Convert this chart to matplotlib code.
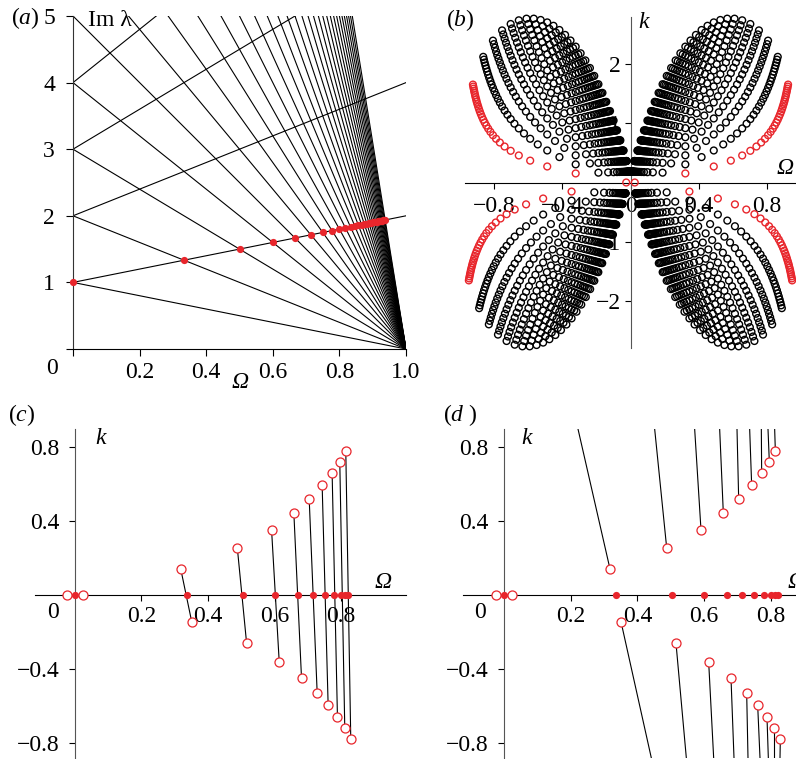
import numpy as np
import matplotlib
matplotlib.use('Agg')
import matplotlib.pyplot as plt

plt.rcParams['font.family'] = ['Liberation Serif', 'DejaVu Serif']
plt.rcParams['font.size'] = 17
plt.rcParams['mathtext.fontset'] = 'custom'
plt.rcParams['mathtext.rm'] = 'Liberation Serif'
plt.rcParams['mathtext.it'] = 'Liberation Serif:italic'
RED = '#e8262c'
GREY = '#555555'

# ---- (a) Im lambda versus Omega: lines n(1-Omega) and m(1+Omega)
down_n = list(range(1, 32))          # intercepts of n(1-Omega) at Omega=0
up_m = [1, 2, 3, 4]                   # intercepts of m(1+Omega)
red_n = list(range(1, 31))            # collisions of 1+Omega with n(1-Omega)

N_TOP = 30
K_SCALE = 0.37
D_OM = 0.012

# ---- (c), (d) red points
dot_om = [0.0, 0.336, 0.504, 0.601, 0.669, 0.714, 0.751, 0.780, 0.800, 0.813, 0.822]
zero_om = [-0.025, 0.025]
up_om = [0.318, 0.488, 0.591, 0.658, 0.704, 0.743, 0.773, 0.796, 0.814]
up_k = [0.141, 0.256, 0.352, 0.442, 0.522, 0.594, 0.659, 0.720, 0.782]
lo_om = [0.351, 0.516, 0.614, 0.681, 0.728, 0.761, 0.789, 0.811, 0.829]
lo_k = [-0.145, -0.262, -0.363, -0.451, -0.529, -0.596, -0.663, -0.722, -0.780]
# where the (d) branches leave the frame (k = 0.9 on top, k = -0.883 below)
top_om = [0.222, 0.452, 0.572, 0.647, 0.699, 0.737, 0.772, 0.792, 0.812]
bot_om = [0.442, 0.547, 0.629, 0.690, 0.732, 0.768, 0.793, 0.811, 0.828]

W, H = 796.0, 759.0
fig = plt.figure(figsize=(W / 100, H / 100), dpi=100)


def box(x0, x1, y0, y1):
    return [x0 / W, 1 - y1 / H, (x1 - x0) / W, (y1 - y0) / H]


def ftext(x, y, s, **kw):
    kw.setdefault('ha', 'center')
    kw.setdefault('va', 'center')
    fig.text(x / W, 1 - y / H, s, **kw)


# ================= (a)
ax = fig.add_axes(box(73, 406, 16, 349))
om = np.array([0.0, 1.0])
for n in down_n:
    ax.plot(om, n * (1 - om), color='k', lw=0.8)
for m in up_m:
    ax.plot(om, m * (1 + om), color='k', lw=0.8)
rn = np.array(red_n, dtype=float)
r_om = (rn - 1) / (rn + 1)
ax.plot(r_om, 1 + r_om, 'o', color=RED, ms=5.2, mew=0, zorder=4, clip_on=False)
ax.set_xlim(0, 1)
ax.set_ylim(0, 5)
for s in ['top', 'right']:
    ax.spines[s].set_visible(False)
ax.spines['left'].set_color('#333333')
ax.set_xticks([0, 0.2, 0.4, 0.6, 0.8, 1.0])
ax.set_xticklabels(['', '0.2', '0.4', '0.6', '0.8', '1.0'])
ax.set_yticks([0, 1, 2, 3, 4, 5])
ax.set_yticklabels(['', '1', '2', '3', '4', '5'])
ax.tick_params(axis='y', direction='out', length=5, width=0.8, pad=8)
ax.tick_params(axis='x', direction='out', length=5, width=0.8, pad=4)
ftext(52, 368, '0')
ftext(240, 383, 'Ω', style='italic')
ftext(88, 20, 'Im λ', ha='left')
ftext(25, 18, r'($\mathit{a}$)')

# ================= (b)
ax = fig.add_axes(box(465, 796, 17, 348))
bo, bk, bc = [], [], []
for m in range(1, N_TOP):
    for n in range(m + 1, N_TOP + 1):
        o = (n - m) / (n + m)
        k = K_SCALE * (np.sqrt(m * n) - m)
        col = RED if m == 1 else 'k'
        for so in (1, -1):
            bo += [so * (o - D_OM), so * (o + D_OM)]
            bk += [k, -k]
            bc += [col, col]
bo, bk, bc = np.array(bo), np.array(bk), np.array(bc)
blk = bc == 'k'
ax.scatter(bo[blk], bk[blk], s=24, facecolors='none', edgecolors='k',
           linewidths=1.0, zorder=3, clip_on=False)
ax.scatter(bo[~blk], bk[~blk], s=24, facecolors='none', edgecolors=RED,
           linewidths=1.0, zorder=4, clip_on=False)
ax.scatter(zero_om, [0, 0], s=24, facecolors='none', edgecolors=RED,
           linewidths=1.0, zorder=4, clip_on=False)
ax.set_xlim(-0.97, 0.97)
ax.set_ylim(-2.8, 2.8)
ax.spines['left'].set_position(('data', 0))
ax.spines['bottom'].set_position(('data', 0))
ax.spines['left'].set_color(GREY)
for s in ['top', 'right']:
    ax.spines[s].set_visible(False)
ax.set_xticks([-0.8, -0.4, 0, 0.4, 0.8])
ax.set_xticklabels(['−0.8', '−0.4', '0', '0.4', '0.8'])
ax.set_yticks([-2, -1, 1, 2])
ax.set_yticklabels(['−2', '−1', '1', '2'])
ax.tick_params(axis='y', direction='out', length=4, width=0.8, pad=3)
ax.tick_params(axis='x', direction='out', length=4, width=0.8, pad=6)
ftext(460, 20, r'($\mathit{b}$)')
ftext(644, 23, 'k', style='italic')
ftext(785, 168, 'Ω', style='italic')


# ================= (c) and (d)
def base_axes(rect):
    a = fig.add_axes(rect)
    a.set_ylim(-0.883, 0.899)
    a.spines['left'].set_position(('data', 0))
    a.spines['bottom'].set_position(('data', 0))
    a.spines['left'].set_color(GREY)
    for s in ['top', 'right']:
        a.spines[s].set_visible(False)
    a.set_xticks([0.2, 0.4, 0.6, 0.8])
    a.set_xticklabels(['0.2', '0.4', '0.6', '0.8'])
    a.set_yticks([-0.8, -0.4, 0.4, 0.8])
    a.set_yticklabels(['−0.8', '−0.4', '0.4', '0.8'])
    a.tick_params(axis='y', direction='out', length=4, width=0.8, pad=7)
    a.tick_params(axis='x', direction='out', length=4, width=0.8, pad=4)
    return a


def red_marks(a):
    a.plot(dot_om, np.zeros(len(dot_om)), 'o', color=RED, ms=5.2, mew=0, zorder=4,
           clip_on=False)
    a.plot(up_om + lo_om + zero_om, up_k + lo_k + [0, 0], 'o', mfc='white', mec=RED,
           ms=6.5, mew=0.9, zorder=5, clip_on=False)


ax = base_axes(box(35, 406, 429, 758))
ax.set_xlim(-0.12, 0.995)
for ou, ku, ol, kl in zip(up_om, up_k, lo_om, lo_k):
    ax.plot([ou, ol], [ku, kl], color='k', lw=0.8, zorder=3)
red_marks(ax)
ftext(22, 415, r'($\mathit{c}$)')
ftext(101, 438, 'k', style='italic')
ftext(383, 583, 'Ω', style='italic')
ftext(53, 613, '0')

ax = base_axes(box(463, 837, 429, 758))
ax.set_xlim(-0.123, 0.999)
for ou, ku, ot in zip(up_om, up_k, top_om):
    ax.plot([ou, ot], [ku, 0.899], color='k', lw=0.8, zorder=3)
for ol, kl, ob in zip(lo_om, lo_k, bot_om):
    ax.plot([ol, ob], [kl, -0.883], color='k', lw=0.8, zorder=3)
red_marks(ax)
ftext(460, 415, r'($\mathit{d}$ )')
ftext(527, 438, 'k', style='italic')
ftext(796, 582, 'Ω', style='italic')
ftext(480, 613, '0')

fig.savefig('out.png', dpi=100)
